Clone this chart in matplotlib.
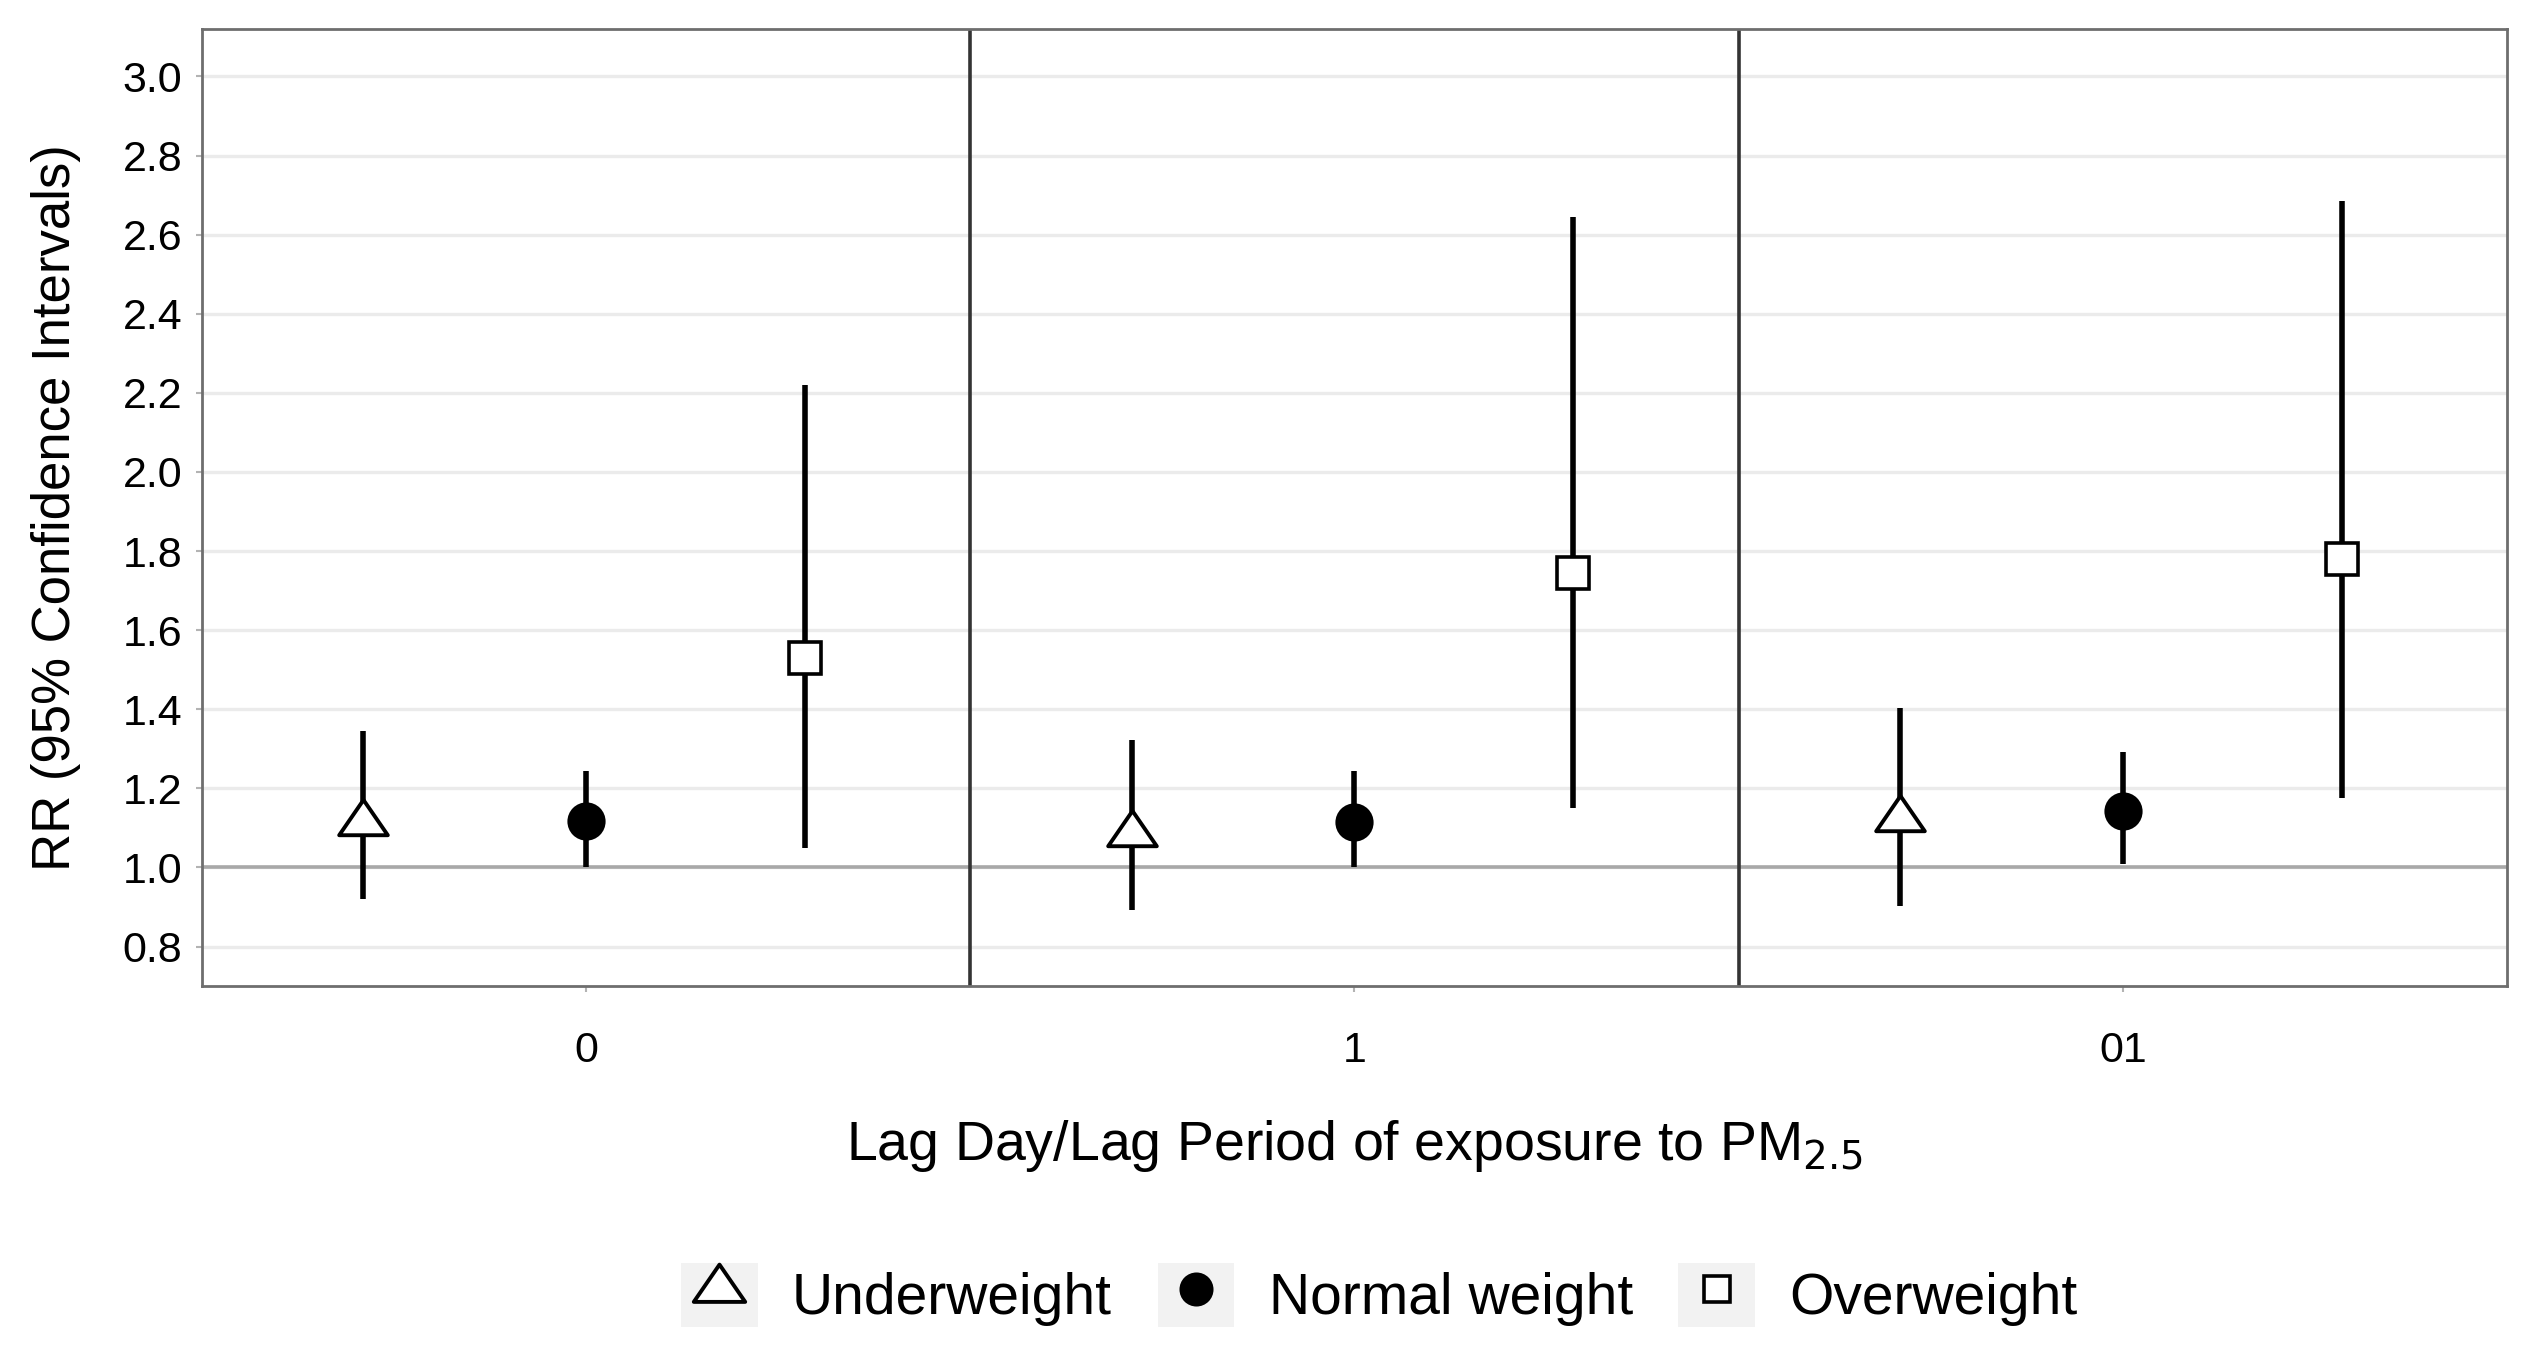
import numpy as np
import matplotlib
matplotlib.use("Agg")
import matplotlib.pyplot as plt
from matplotlib.lines import Line2D
from matplotlib.patches import Rectangle
from matplotlib.path import Path
from matplotlib.legend_handler import HandlerTuple

plt.rcParams['font.family'] = ['Liberation Sans', 'DejaVu Sans']

# data
lags = ["0", "1", "01"]
groups = ["Underweight", "Normal weight", "Overweight"]
rr = {
    "Underweight": [1.112, 1.085, 1.122],
    "Normal weight": [1.118, 1.114, 1.143],
    "Overweight": [1.53, 1.745, 1.78],
}
lo = {
    "Underweight": [0.921, 0.892, 0.903],
    "Normal weight": [1.00, 1.00, 1.008],
    "Overweight": [1.05, 1.15, 1.175],
}
hi = {
    "Underweight": [1.346, 1.322, 1.404],
    "Normal weight": [1.243, 1.243, 1.293],
    "Overweight": [2.22, 2.645, 2.685],
}
yticks = [0.8, 1.0, 1.2, 1.4, 1.6, 1.8, 2.0, 2.2, 2.4, 2.6, 2.8, 3.0]

# open triangle with its centroid on the data point (like R's pch 2)
tri = Path([(0, 24.7), (-25.5, -12.3), (25.5, -12.3), (0, 24.7)],
           [Path.MOVETO, Path.LINETO, Path.LINETO, Path.CLOSEPOLY])

offsets = {"Underweight": -0.29, "Normal weight": 0.0, "Overweight": 0.285}
styles = {
    "Underweight": dict(marker=tri, ms=35, mfc='white', mec='black', mew=2.8),
    "Normal weight": dict(marker='o', ms=26, mfc='black', mec='black', mew=1.5),
    "Overweight": dict(marker='s', ms=23, mfc='white', mec='black', mew=2.6),
}

fig = plt.figure(figsize=(25.31, 13.48), dpi=100)
ax = fig.add_axes([0.0798, 0.2685, 0.9905 - 0.0798, 0.9785 - 0.2685])

ax.set_xlim(0, 3)
ax.set_ylim(0.70, 3.12)

# gridlines
for t in yticks:
    ax.axhline(t, color='#ebebeb', lw=2.4, zorder=0)
ax.axhline(1.0, color='#a8a8a8', lw=2.6, zorder=1)

# panel separators
for s in [1, 2]:
    ax.axvline(s, color='#333333', lw=2.6, zorder=2)

xc = np.arange(len(lags)) + 0.5
for g in groups:
    x = xc + offsets[g]
    y = np.array(rr[g])
    ax.vlines(x, lo[g], hi[g], color='black', lw=4.0, zorder=3)
    ax.plot(x, y, ls='none', zorder=4, **styles[g])

ax.set_xticks(xc)
ax.set_xticklabels(lags)
ax.set_yticks(yticks)
ax.set_yticklabels([f"{t:.1f}" for t in yticks])
ax.tick_params(axis='both', labelsize=31, colors='#b3b3b3', length=4, width=1.5,
               labelcolor='black')
ax.tick_params(axis='x', pad=28)
ax.tick_params(axis='y', pad=10)

for sp in ax.spines.values():
    sp.set_color('#6e6e6e')
    sp.set_linewidth(2.0)

ax.set_xlabel("Lag Day/Lag Period of exposure to PM$_{2.5}$", fontsize=40, labelpad=34)
ax.set_ylabel("RR (95% Confidence Intervals)", fontsize=38, labelpad=30)

# legend keys with light grey background boxes
leg_styles = {
    "Underweight": dict(marker=tri, ms=37, mfc='white', mec='black', mew=2.8),
    "Normal weight": dict(marker='o', ms=23, mfc='black', mec='black', mew=1.5),
    "Overweight": dict(marker='s', ms=19, mfc='white', mec='black', mew=2.6),
}
handles = []
for g in groups:
    box = Rectangle((0, 0), 1, 1, facecolor='#f2f2f2', edgecolor='none')
    mk = Line2D([], [], ls='none', **leg_styles[g])
    handles.append((box, mk))
fig.legend(handles, groups, loc='center', bbox_to_anchor=(0.545, 0.039), ncol=3,
           frameon=False, fontsize=41, handletextpad=0.6, columnspacing=0.8,
           handlelength=1.35, handleheight=1.35,
           handler_map={tuple: HandlerTuple(ndivide=1, pad=0)})

fig.savefig("out.png", dpi=100, facecolor='white')
